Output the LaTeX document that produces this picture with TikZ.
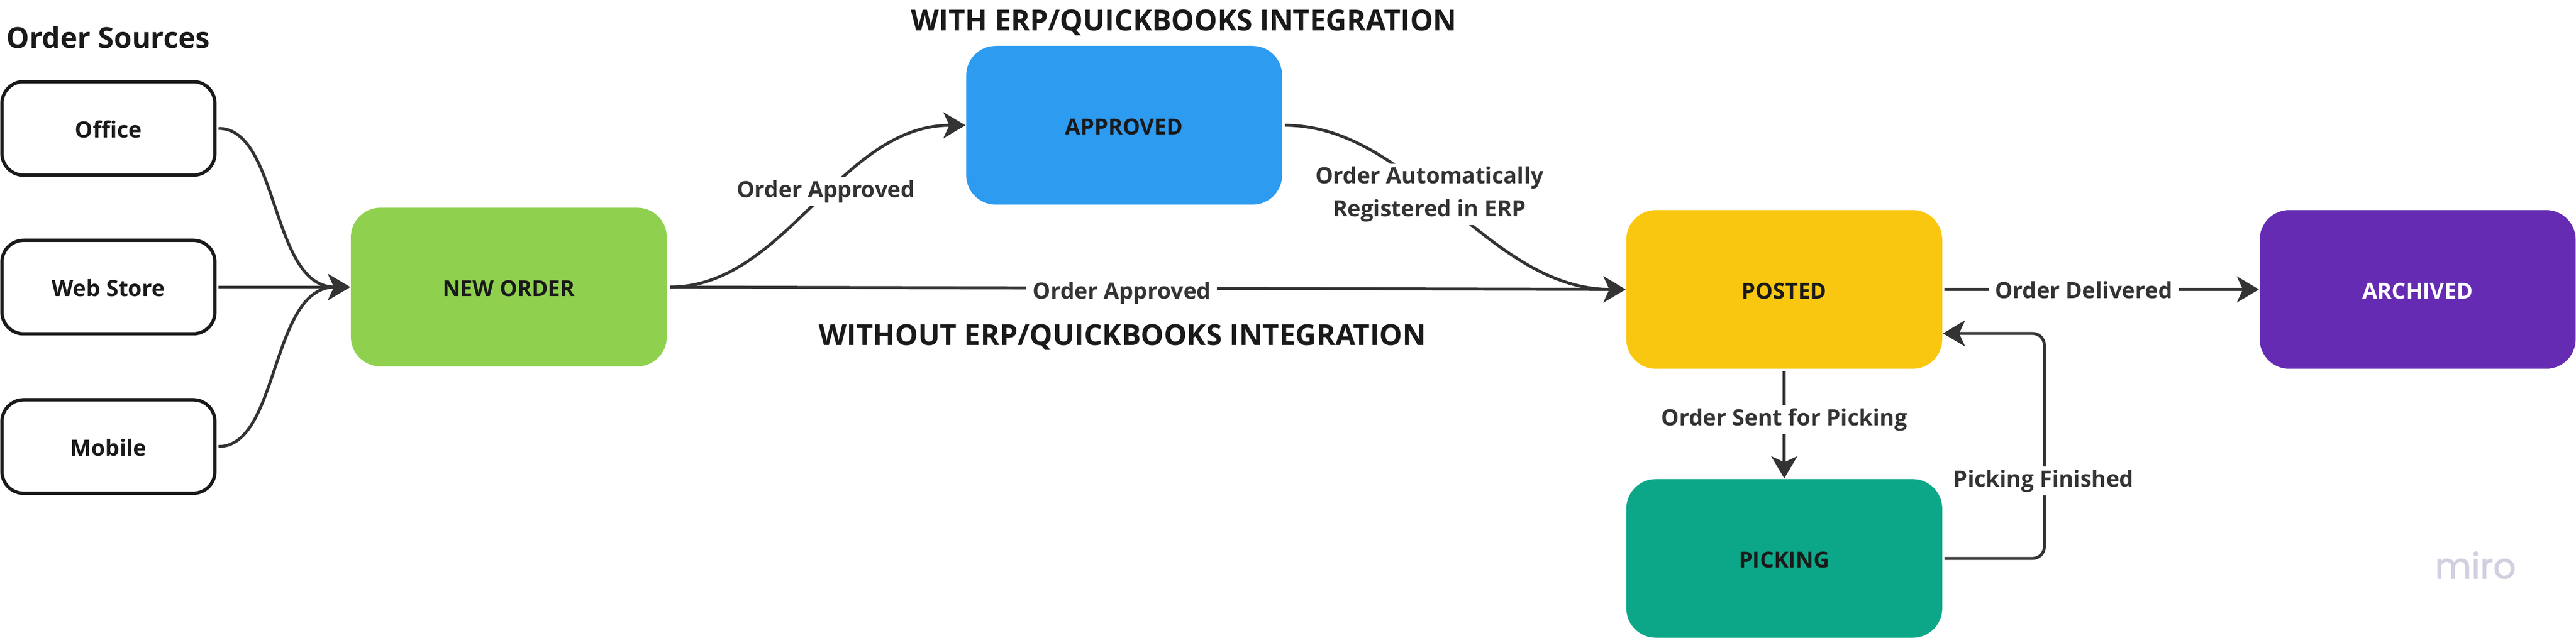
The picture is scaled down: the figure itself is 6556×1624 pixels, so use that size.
\documentclass[tikz,border=0pt]{standalone}
\usepackage{fontspec}
\setmainfont{Open Sans}
\newfontfamily\mirofont[FakeBold=1.5]{Poppins}
\usetikzlibrary{arrows.meta,calc}
\definecolor{inkdark}{HTML}{1A1A1A}
\definecolor{inkline}{HTML}{333333}
\definecolor{cgreen}{HTML}{8FD14F}
\definecolor{cblue}{HTML}{2D9BF0}
\definecolor{cyellow}{HTML}{FAC710}
\definecolor{cpurple}{HTML}{652CB3}
\definecolor{cteal}{HTML}{0CA789}
\definecolor{cmiro}{HTML}{D0D0E0}
\tikzset{
  srcbox/.style={draw=inkdark,line width=0.85pt,fill=white,rounded corners=5.5pt,minimum width=54.2pt,minimum height=23.8pt,inner sep=0pt,text=inkdark,text height=4.7pt,text depth=0pt,font=\fontsize{5.7pt}{7pt}\selectfont\bfseries},
  state/.style={rounded corners=7.5pt,minimum width=80.4pt,minimum height=40.4pt,inner sep=0pt,text=inkdark,text height=4.8pt,text depth=0pt,font=\fontsize{5.6pt}{7pt}\selectfont\bfseries},
  conn/.style={draw=inkline,line width=0.75pt,-{Stealth[length=5.6pt,width=6.6pt,inset=1.5pt]}},
  lbl/.style={fill=white,inner xsep=1.6pt,inner ysep=0.8pt,text=inkline,text height=4.3pt,text depth=1.4pt,font=\fontsize{5.7pt}{8.4pt}\selectfont\bfseries},
  head/.style={inner sep=0pt,text=inkdark,font=\fontsize{7.35pt}{9pt}\selectfont\bfseries}
}
\begin{document}
\begin{tikzpicture}[x=0.1pt,y=-0.1pt]
\useasboundingbox (0,0) rectangle (6556,1624);
% state and source nodes
\node[srcbox] (office) at (276,327) {Office};
\node[srcbox] (web) at (276,731) {Web Store};
\node[srcbox] (mobile) at (276,1137) {Mobile};
\node[state,fill=cgreen] (neworder) at (1295,731) {NEW ORDER};
\node[state,fill=cblue] (approved) at (2861,319) {APPROVED};
\node[state,fill=cyellow] (posted) at (4541,737) {POSTED};
\node[state,fill=cpurple,text=white] (archived) at (6153,737) {ARCHIVED};
\node[state,fill=cteal] (picking) at (4541,1422) {PICKING};
% headings
\node[head,anchor=west] (hsrc) at (15,95) {Order Sources};
\node[head] (hwith) at (3013,58) {WITH ERP/QUICKBOOKS INTEGRATION};
\node[head] (hwithout) at (2857,859) {WITHOUT ERP/QUICKBOOKS INTEGRATION};
% connectors
\draw[conn,shorten <=0.5pt] (office.east) .. controls +(160,0) and +(-203,0) .. (neworder.west);
\draw[conn,shorten <=0.5pt] (web.east) -- (neworder.west);
\draw[conn,shorten <=0.5pt] (mobile.east) .. controls +(160,0) and +(-203,0) .. (neworder.west);
\draw[conn,shorten <=0.6pt] (neworder.east) .. controls +(300,0) and +(-320,0) .. (approved.west);
\draw[conn,shorten <=0.6pt] (neworder.east) -- (posted.west);
\draw[conn,shorten <=0.5pt] (approved.east) .. controls +(330,0) and +(-350,0) .. (posted.west);
\draw[conn,shorten <=0.4pt] (posted.east) -- (archived.west);
\draw[conn,shorten <=0.4pt] (posted.south) -- (picking.north);
\coordinate (backin) at ($(posted.east)+(0,112)$);
\coordinate (backcorner) at ($(picking.east)+(258,0)$);
\draw[conn,shorten <=0.4pt,rounded corners=3pt] (picking.east) -- (backcorner) -- (backcorner |- backin) -- (backin);
% connector labels
\node[lbl] (l1) at (2102,488) {Order Approved};
\node[lbl] (l2) at (2855,747) {Order Approved};
\node[lbl,align=center,text height=,text depth=] (l3) at (3638,495) {Order Automatically\\Registered in ERP};
\node[lbl] (l4) at (5303,745) {Order Delivered};
\node[lbl] (l5) at (4541,1069) {Order Sent for Picking};
\node[lbl] (l6) at (5201,1225) {Picking Finished};
% watermark
\node[inner sep=0pt,text=cmiro,font=\fontsize{9pt}{10pt}\selectfont\mirofont] (wm) at (6300,1439) {miro};
\end{tikzpicture}
\end{document}
